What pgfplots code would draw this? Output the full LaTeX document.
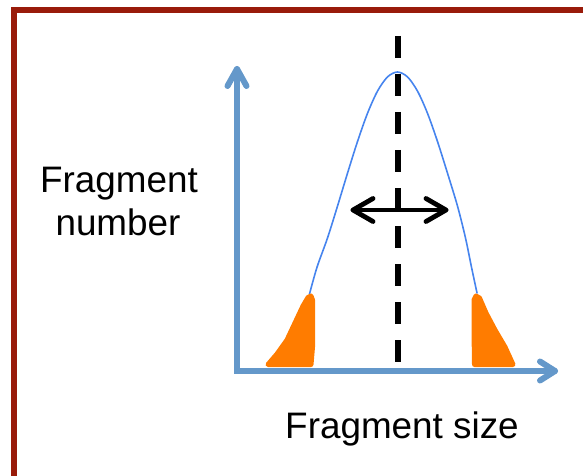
\documentclass[border=0pt]{standalone}
\usepackage{fontspec}
\setmainfont{Liberation Sans}
\usepackage{pgfplots}
\pgfplotsset{compat=1.18}

\definecolor{framered}{RGB}{153,27,10}
\definecolor{axblue}{RGB}{100,152,202}
\definecolor{curveblue}{RGB}{70,132,238}
\definecolor{tail}{RGB}{255,124,0}

\begin{document}
\begin{tikzpicture}
\begin{axis}[
  name=ax,
  width=583bp, height=476bp, scale only axis,
  xmin=0, xmax=583, ymin=0, ymax=476, y dir=reverse,
  hide axis, clip=true, no markers,
  every axis plot/.append style={line cap=round, line join=round},
]
% frame (top and left edges only visible)
\addplot[framered, line width=6bp, line cap=butt, line join=miter]
  coordinates {(14,490) (14,10) (600,10)};

% distribution curve
\addplot[curveblue, line width=1.6bp, smooth] coordinates {
  (309.5,294) (317,267.2) (327.5,238) (337.5,206.1)
  (347.5,173.2) (357.5,141.5) (367.5,113.3) (377.5,91.1) (387.5,76.9)
  (397.5,72) (407.5,76.9) (417.5,91.1) (427.5,113.3) (437.5,141.5)
  (447.5,173.2) (457.5,206.1) (465.5,238) (471.5,267.2) (477,293)
};

% tails
\addplot[fill=tail, draw=tail, line width=5bp] coordinates {
  (268,364.5) (277,354) (287,340) (295,323) (303,306) (308,297.5)
  (311,296) (312.5,300) (312.5,347) (311,364.5)
} -- cycle;
\addplot[fill=tail, draw=tail, line width=5bp] coordinates {
  (474.5,364.5) (474,330) (474,300) (476,296) (479.5,298) (486,313)
  (495,330) (505,347) (513,364.5)
} -- cycle;

% axes
\addplot[axblue, line width=6bp, line join=miter, line cap=round]
  coordinates {(237,69) (237,371) (555,371)};
\addplot[axblue, line width=6bp] coordinates {(227.5,86) (237,69) (246.5,86)};
\addplot[axblue, line width=6bp] coordinates {(540,361.5) (555,371) (540,380.5)};

% mean line
\addplot[black, line width=5.5bp, line cap=butt, dash pattern=on 22bp off 16bp]
  coordinates {(398,36) (398,362)};

% spread arrow
\addplot[black, line width=4.8bp] coordinates {(353,210) (446,210)};
\addplot[black, line width=4.8bp] coordinates {(373,198.5) (353,210) (373,221.5)};
\addplot[black, line width=4.8bp] coordinates {(426,198.5) (446,210) (426,221.5)};

\node[anchor=base, font=\fontsize{37}{44}\selectfont, inner sep=0pt] at (axis cs:119,192) {Fragment};
\node[anchor=base, font=\fontsize{37}{44}\selectfont, inner sep=0pt] at (axis cs:118,235) {number};
\node[anchor=base, font=\fontsize{37}{44}\selectfont, inner sep=0pt] at (axis cs:402,438) {Fragment size};
\end{axis}
\pgfresetboundingbox
\path[use as bounding box] (ax.south west) rectangle (ax.north east);
\end{tikzpicture}
\end{document}
